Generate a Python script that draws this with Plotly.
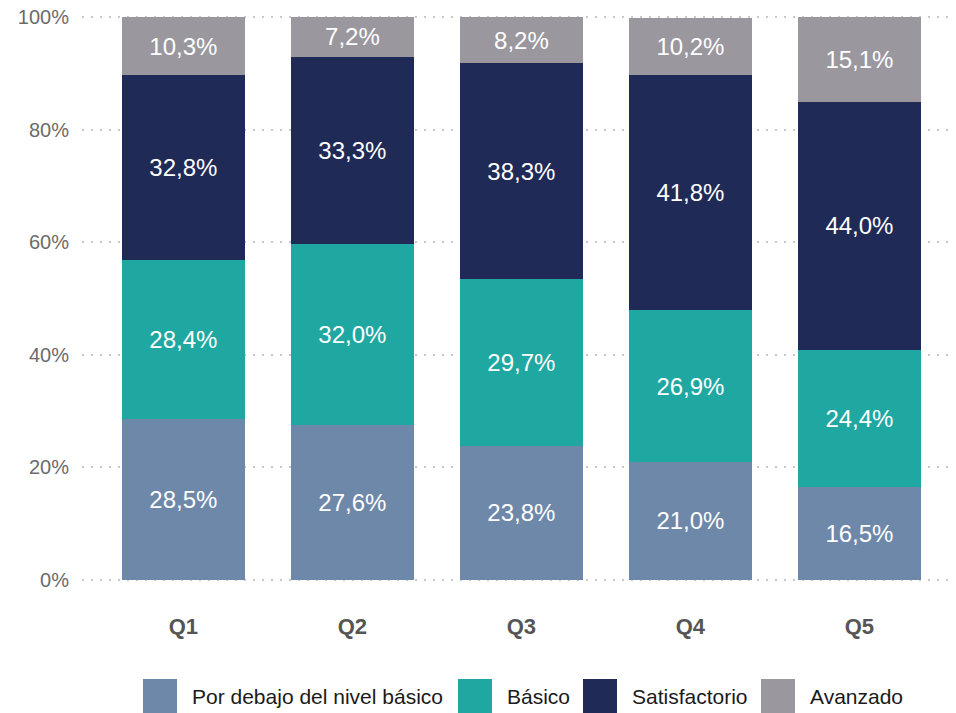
import plotly.graph_objects as go

quintiles = ["Q1", "Q2", "Q3", "Q4", "Q5"]
levels = ["Por debajo del nivel básico", "Básico", "Satisfactorio", "Avanzado"]
colors = ["#6E88AA", "#1FA8A1", "#1F2A56", "#9A979F"]

# porcentajes por quintil
por_debajo = [28.5, 27.6, 23.8, 21.0, 16.5]
basico = [28.4, 32.0, 29.7, 26.9, 24.4]
satisfactorio = [32.8, 33.3, 38.3, 41.8, 44.0]
avanzado = [10.3, 7.2, 8.2, 10.2, 15.1]

series = [por_debajo, basico, satisfactorio, avanzado]

W, H = 956, 713
L, R, T, B = 82, 6, 16, 713 - 581
FONT = "Liberation Sans, Arial"

fig = go.Figure()
for name, vals, col in zip(levels, series, colors):
    fig.add_bar(
        x=quintiles, y=[v / 100 for v in vals], name=name,
        marker=dict(color=col, line=dict(width=0)),
        texttemplate="%{y:.1%}", textposition="inside", insidetextanchor="middle",
        textfont=dict(color="white", size=24, family=FONT),
        hoverinfo="skip", showlegend=False,
    )

# leyenda dibujada a mano (cuadros grandes como en el original)
pw, ph = W - L - R, H - T - B
def px_x(p):
    return (p - L) / pw
def px_y(p):
    return (H - B - p) / ph

legend_left = [143, 458, 583, 761]
box = 34
for name, col, x0 in zip(levels, colors, legend_left):
    fig.add_shape(type="rect", xref="paper", yref="paper",
                  x0=px_x(x0), x1=px_x(x0 + box), y0=px_y(679), y1=px_y(679 + box),
                  fillcolor=col, line=dict(width=0))
    fig.add_annotation(xref="paper", yref="paper", x=px_x(x0 + box + 13), y=px_y(696),
                       text=name, showarrow=False, xanchor="left", yanchor="middle",
                       font=dict(size=21, color="#1a1a1a", family=FONT))

fig.update_layout(
    barmode="stack", bargap=0.27, separators=",.",
    width=W, height=H,
    margin=dict(l=L, r=R, t=T, b=B),
    paper_bgcolor="white", plot_bgcolor="white",
    font=dict(family=FONT, color="#222"),
    showlegend=False,
)
fig.update_xaxes(range=[-0.6, 4.536], showgrid=False, showline=False, ticks="",
                 automargin=False,
                 tickfont=dict(size=22, color="#555555", family=FONT),
                 ticklabelstandoff=30,
                 tickvals=list(range(5)), ticktext=["<b>%s</b>" % q for q in quintiles])
fig.update_yaxes(range=[-0.002, 1.002], tickformat=".0%", dtick=0.2, showgrid=True,
                 gridcolor="#c8c8c8", griddash="2px,7px", gridwidth=2, zeroline=False,
                 showline=False, ticks="", automargin=False, ticklabeloverflow="allow",
                 tickfont=dict(size=20, color="#6b6b6b", family=FONT),
                 ticklabelstandoff=12)

# sin el margen por defecto del body la figura ocupa toda la ventana
fig.write_html("out.html", config={"displayModeBar": False},
               post_script="document.body.style.margin='0';")
